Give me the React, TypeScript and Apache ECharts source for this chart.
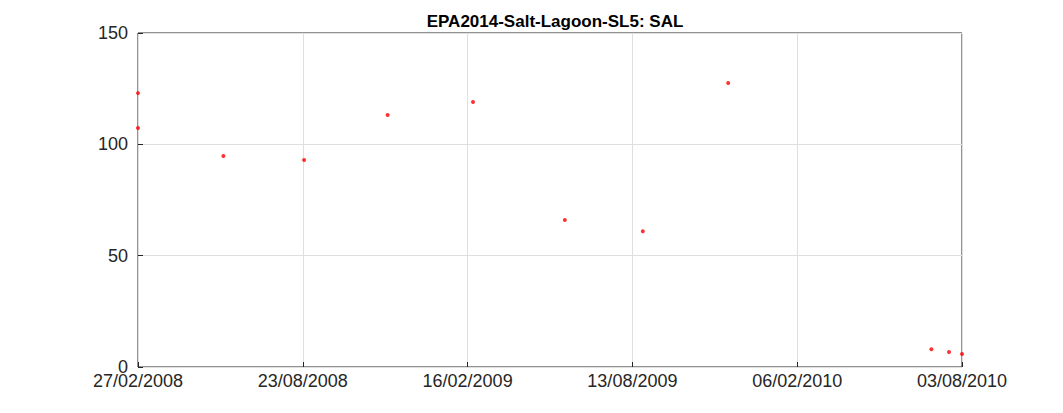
import { useEffect, useRef } from 'react';
import * as echarts from 'echarts';

// days since 27/02/2008 for each sample
const sampleDays = [0, 0, 92, 179, 269, 361, 460, 544, 636, 855, 874, 888];
const salValues = [123, 107.3, 94.8, 93, 113.2, 119, 66, 61, 127.5, 8, 6.7, 5.8];
const dateTicks = ['27/02/2008', '23/08/2008', '16/02/2009', '13/08/2009', '06/02/2010', '03/08/2010'];
const totalDays = 888;

export default function App() {
  const ref = useRef<HTMLDivElement>(null);

  useEffect(() => {
    if (!ref.current) return;
    const chart = echarts.init(ref.current, null, { renderer: 'svg' });
    const step = totalDays / 5;
    const font = 'Liberation Sans, Arial';
    chart.setOption({
      animation: false,
      backgroundColor: '#fff',
      title: {
        text: 'EPA2014-Salt-Lagoon-SL5: SAL',
        left: 542,
        textAlign: 'center',
        top: 0,
        textStyle: { fontFamily: font, fontSize: 17, fontWeight: 'bold', color: '#000' },
      },
      grid: { left: 130, right: 93, top: 25, bottom: 38, show: true, borderColor: '#262626', borderWidth: 1 },
      xAxis: {
        type: 'value',
        min: 0,
        max: totalDays,
        interval: step,
        axisLine: { show: false },
        axisTick: { show: true, inside: true, length: 5, lineStyle: { color: '#262626' } },
        splitLine: { show: true, lineStyle: { color: '#dfdfdf' } },
        axisLabel: {
          color: '#262626',
          fontFamily: font,
          fontSize: 18,
          margin: 5,
          formatter: (v: number) => dateTicks[Math.round(v / step)] ?? '',
        },
      },
      yAxis: {
        type: 'value',
        min: 0,
        max: 150,
        interval: 50,
        axisLine: { show: false },
        axisTick: { show: true, inside: true, length: 5, lineStyle: { color: '#262626' } },
        splitLine: { show: true, lineStyle: { color: '#dfdfdf' } },
        axisLabel: { color: '#262626', fontFamily: font, fontSize: 18, margin: 10 },
      },
      series: [
        {
          type: 'scatter',
          data: sampleDays.map((d, i) => [d, salValues[i]]),
          symbolSize: 4,
          itemStyle: { color: '#ff0000' },
          clip: false,
        },
      ],
    });
    return () => chart.dispose();
  }, []);

  return <div ref={ref} style={{ width: 1047, height: 397 }} />;
}
